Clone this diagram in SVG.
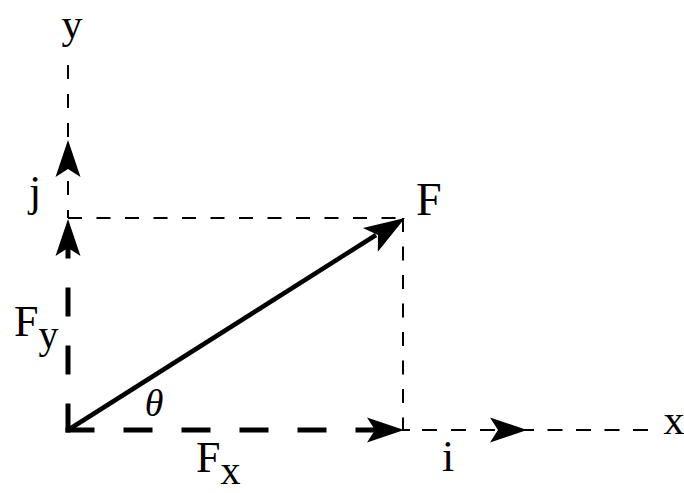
<svg xmlns="http://www.w3.org/2000/svg" width="684" height="493" viewBox="0 0 684 493">
  <style>
    .lbl { font-family: "Liberation Serif", "Times New Roman", serif; fill: #000; }
    .thin { stroke: #000; stroke-width: 2; fill: none; }
    .thick { stroke: #000; stroke-width: 5; fill: none; stroke-dasharray: 29 29; }
    .vec { stroke: #000; stroke-width: 4.5; fill: none; }
    .ah { fill: #000; }
  </style>
  <defs>
    <path id="ah" class="ah" d="M0,0 L-37,-12.5 L-29,0 L-37,12.5 Z"/>
    <path id="ahL" class="ah" d="M0,0 L-41,-14 L-32,0 L-41,14 Z"/>
  </defs>
  <rect width="684" height="493" fill="#fff"/>

  <g id="connectors">
    <!-- y axis (thin dashed) -->
    <path class="thin" d="M68,65 V218" stroke-dasharray="14 15"/>
    <!-- x axis (thin dashed) -->
    <path class="thin" d="M422,430 H500" stroke-dasharray="15 14"/>
    <path class="thin" d="M519,430 H650" stroke-dasharray="15 13.5"/>
    <!-- projection lines -->
    <path class="thin" d="M68,218 H404" stroke-dasharray="14 14.5"/>
    <path class="thin" d="M403,218 V431" stroke-dasharray="14 14.5"/>
    <path class="thin" d="M403,430 H410"/>
    <!-- component vectors (thick dashed) -->
    <path class="thick" d="M65.5,430 H390"/>
    <path class="thick" d="M68,432.5 V240"/>
    <!-- resultant vector -->
    <path class="vec" d="M68,430 L376,235"/>
    <!-- arrowheads -->
    <use href="#ah" transform="translate(68,140) rotate(-90)"/>
    <use href="#ah" transform="translate(68,219) rotate(-90)"/>
    <use href="#ah" transform="translate(404,430)"/>
    <use href="#ah" transform="translate(527,430)"/>
    <use href="#ahL" transform="translate(405,218) rotate(-32.3)"/>
  </g>

  <g id="label-y"><text class="lbl" x="72" y="38" font-size="42" text-anchor="middle">y</text></g>
  <g id="label-x"><text class="lbl" x="674" y="434" font-size="42" text-anchor="middle">x</text></g>
  <g id="label-j"><text class="lbl" x="35" y="206" font-size="44" text-anchor="middle">j</text></g>
  <g id="label-i"><text class="lbl" x="448" y="471" font-size="44" text-anchor="middle">i</text></g>
  <g id="label-F"><text class="lbl" x="416" y="215" font-size="46">F</text></g>
  <g id="label-Fy"><text class="lbl" x="14" y="336" font-size="44">F<tspan font-size="40" dy="12">y</tspan></text></g>
  <g id="label-Fx"><text class="lbl" x="196" y="472" font-size="44">F<tspan font-size="40" dy="12">x</tspan></text></g>
  <g id="label-theta"><text class="lbl" x="154" y="416" font-size="38" font-style="italic" text-anchor="middle">θ</text></g>
</svg>
